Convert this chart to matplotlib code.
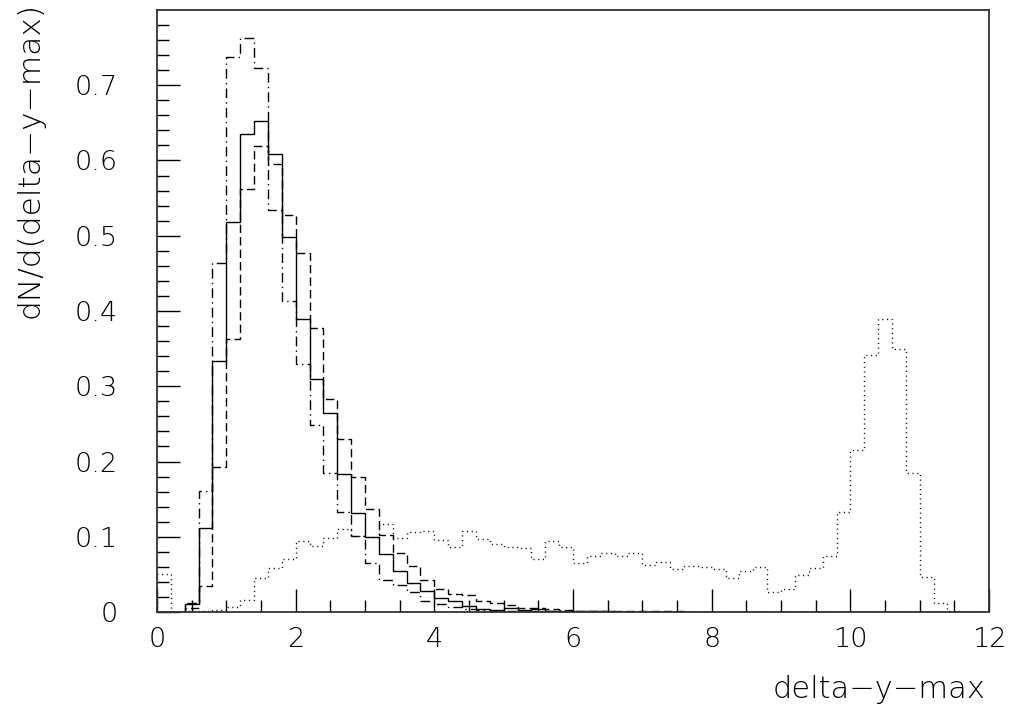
import numpy as np
import matplotlib
matplotlib.use("Agg")
import matplotlib.pyplot as plt

plt.rcParams['font.family'] = ['DejaVu Sans']
plt.rcParams['font.weight'] = 'light'
plt.rcParams['lines.scale_dashes'] = False

# 60 bins of width 0.2 from 0 to 12
edges = np.round(np.arange(0, 12.0001, 0.2), 1)

solid = [0, 0, 0.010, 0.111, 0.334, 0.518, 0.635, 0.652, 0.608, 0.498,
         0.390, 0.310, 0.264, 0.184, 0.131, 0.100, 0.077, 0.055, 0.038, 0.028,
         0.018, 0.014, 0.008, 0.004, 0.003, 0.006, 0.003, 0.004, 0.002, 0.001,
         0.001, 0.001, 0.001, 0, 0, 0, 0, 0, 0, 0,
         0, 0, 0, 0, 0, 0, 0, 0, 0, 0,
         0, 0, 0, 0, 0, 0, 0, 0, 0, 0]

dashed = [0, 0, 0.005, 0.034, 0.193, 0.363, 0.562, 0.619, 0.596, 0.527,
          0.477, 0.377, 0.283, 0.230, 0.179, 0.137, 0.102, 0.079, 0.061, 0.042,
          0.031, 0.024, 0.023, 0.015, 0.012, 0.009, 0.005, 0.005, 0.004, 0.003,
          0.002, 0.002, 0.002, 0.001, 0.001, 0.001, 0.001, 0.001, 0, 0,
          0, 0, 0, 0, 0, 0, 0, 0, 0, 0,
          0, 0, 0, 0, 0, 0, 0, 0, 0, 0]

dashdot = [0, 0, 0.012, 0.161, 0.464, 0.737, 0.763, 0.723, 0.534, 0.413,
           0.329, 0.249, 0.185, 0.133, 0.101, 0.065, 0.042, 0.036, 0.026, 0.014,
           0.010, 0.007, 0.004, 0.003, 0.002, 0.002, 0.001, 0.001, 0.001, 0.001,
           0, 0, 0, 0, 0, 0, 0, 0, 0, 0,
           0, 0, 0, 0, 0, 0, 0, 0, 0, 0,
           0, 0, 0, 0, 0, 0, 0, 0, 0, 0]

dotted = [0.051, 0, 0.001, 0.002, 0.003, 0.007, 0.016, 0.045, 0.059, 0.071,
          0.095, 0.088, 0.098, 0.110, 0.101, 0.100, 0.117, 0.098, 0.106, 0.107,
          0.096, 0.087, 0.107, 0.097, 0.091, 0.087, 0.085, 0.070, 0.094, 0.086,
          0.065, 0.075, 0.078, 0.074, 0.079, 0.063, 0.066, 0.057, 0.061, 0.060,
          0.057, 0.045, 0.055, 0.060, 0.027, 0.030, 0.049, 0.059, 0.074, 0.133,
          0.215, 0.342, 0.389, 0.349, 0.185, 0.046, 0.012, 0.001, 0, 0]

fig = plt.figure(figsize=(10.14, 7.18), dpi=100)
ax = fig.add_axes([0.1548, 0.1476, 0.8206, 0.8385])

lw = 1.0
ax.stairs(solid, edges, color='black', lw=lw, linestyle='-')
ax.stairs(dashed, edges, color='black', lw=lw, linestyle=(0, (6, 3)))
ax.stairs(dashdot, edges, color='black', lw=lw, linestyle=(0, (7, 3, 1, 3)))
ax.stairs(dotted, edges, color='black', lw=lw, linestyle=(0, (0.8, 2.6)))

ax.set_xlim(0, 12)
ax.set_ylim(0, 0.8)
ax.set_xticks(np.arange(0, 13, 2))
ax.set_xticks(np.arange(0, 12.01, 0.5), minor=True)
ax.set_yticks(np.arange(0, 0.71, 0.1))
ax.set_yticks(np.arange(0, 0.8, 0.02), minor=True)
ax.set_xticklabels([str(v) for v in range(0, 13, 2)])
ax.set_yticklabels(['0'] + ['%.1f' % v for v in np.arange(0.1, 0.71, 0.1)])

ax.tick_params(which='both', direction='in', top=False, right=False,
               labelsize=19.5, width=1.0)
ax.tick_params(axis='x', which='major', length=16.5, pad=11)
ax.tick_params(axis='x', which='minor', length=8.5)
ax.tick_params(axis='y', which='major', length=16.5, pad=28)
ax.tick_params(axis='y', which='minor', length=8.5)
for s in ax.spines.values():
    s.set_linewidth(1.3)
    s.set_color('#333333')

fig.text(0.972, 0.039, 'delta\u2212y\u2212max', ha='right', va='center', fontsize=22)
fig.text(0.030, 0.998, 'dN/d(delta\u2212y\u2212max)', ha='center', va='top',
         rotation=90, fontsize=22.5)

fig.savefig('out.png', dpi=100)
